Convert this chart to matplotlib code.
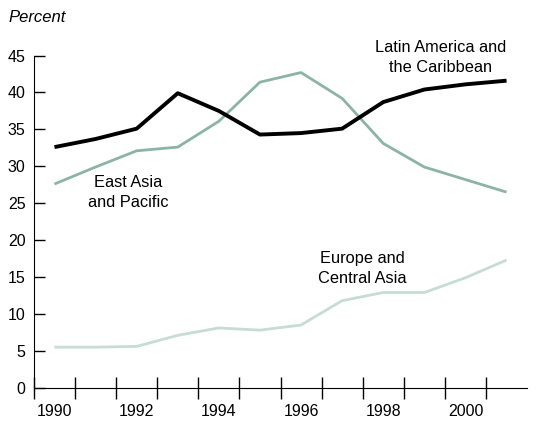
import matplotlib
matplotlib.use("Agg")
import matplotlib.pyplot as plt
import numpy as np

plt.rcParams["font.family"] = ["Liberation Sans", "DejaVu Sans"]

years = list(range(1990, 2002))
latin_america = [32.6, 33.7, 35.1, 39.9, 37.5, 34.3, 34.5, 35.1, 38.7, 40.4, 41.1, 41.6]
east_asia = [27.6, 29.9, 32.1, 32.6, 36.1, 41.4, 42.7, 39.2, 33.1, 29.9, 28.2, 26.5]
europe = [5.5, 5.5, 5.6, 7.1, 8.1, 7.8, 8.5, 11.8, 12.9, 12.9, 14.9, 17.3]
tick_years = [1990, 1992, 1994, 1996, 1998, 2000]

x = np.arange(len(years))

fig = plt.figure(figsize=(5.56, 4.21), dpi=100)
ax = fig.add_axes([0.061, 0.079, 0.887, 0.789])

ax.plot(x, europe, color="#c6dcd4", lw=2.0, solid_capstyle="butt")
ax.plot(x, east_asia, color="#8cb4a6", lw=2.0, solid_capstyle="butt")
ax.plot(x, latin_america, color="black", lw=2.8, solid_capstyle="butt")

ax.set_xlim(-0.5, len(years) - 0.5)
ax.set_ylim(0, 45)
ax.set_yticks(range(0, 46, 5))

# year labels sit between the tick marks
ax.set_xticks(np.arange(-0.5, len(years) - 0.5, 1))
ax.set_xticklabels([])
ax.set_xticks([years.index(y) for y in tick_years], minor=True)
ax.set_xticklabels([str(y) for y in tick_years], minor=True)
ax.tick_params(axis="x", which="major", direction="inout", length=16, width=1)
ax.tick_params(axis="x", which="minor", length=0, pad=12, labelsize=11.5)
ax.tick_params(axis="y", direction="in", length=8, width=1, labelsize=11.5, pad=6)

for s in ["top", "right"]:
    ax.spines[s].set_visible(False)

ax.text(9.39, 44.7, "Latin America and\nthe Caribbean", ha="center", va="center",
        fontsize=11.8, linespacing=1.4, clip_on=False)
ax.text(1.8, 26.5, "East Asia\nand Pacific", ha="center", va="center",
        fontsize=11.8, linespacing=1.4)
ax.text(7.5, 16.2, "Europe and\nCentral Asia", ha="center", va="center",
        fontsize=11.8, linespacing=1.4)

fig.text(8 / 556, 1 - 17 / 421, "Percent", ha="left", va="center",
         fontsize=12, style="italic")

fig.savefig("out.png", dpi=100)
